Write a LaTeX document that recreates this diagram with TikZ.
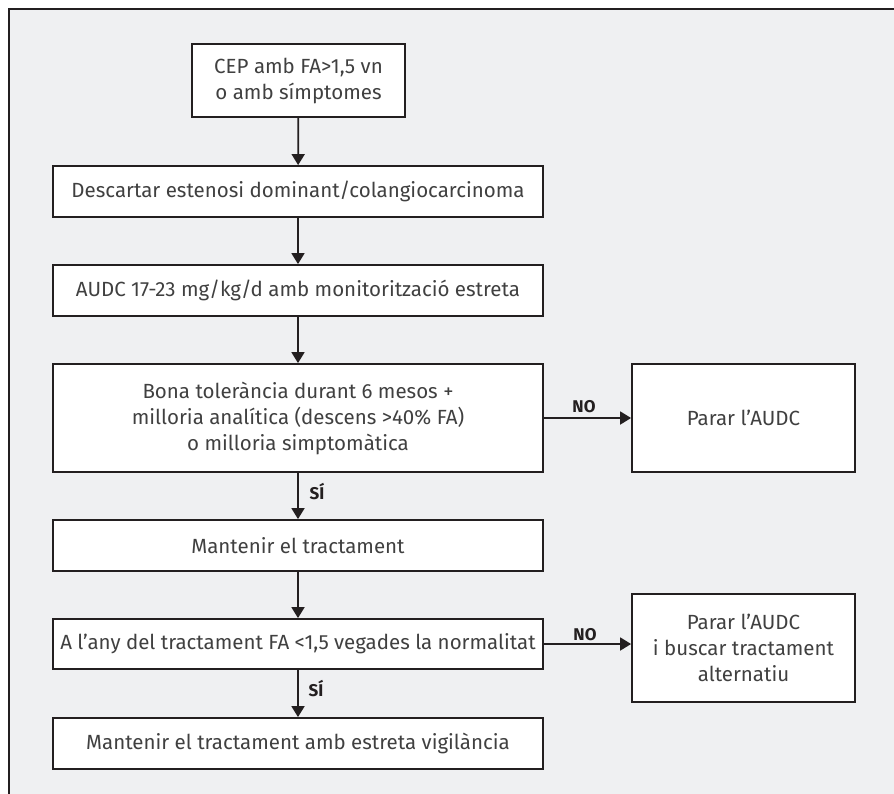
\documentclass[tikz,border=0pt]{standalone}
\usepackage{fontspec}
\setmainfont{Fira Sans}
\usetikzlibrary{arrows.meta}
\definecolor{bgcol}{HTML}{EFF0F2}
\definecolor{linecol}{HTML}{231F20}
\definecolor{txtcol}{HTML}{404040}
\begin{document}
\begin{tikzpicture}[x=1pt,y=-1pt,
  box/.style={draw=linecol, line width=1.8pt, fill=white, text=txtcol,
    align=center, inner sep=0pt, font=\fontsize{20.5}{26}\selectfont},
  arr/.style={draw=linecol, line width=1.8pt, -{Triangle[width=13pt,length=11pt]}},
  lbl/.style={text=linecol, font=\fontsize{17}{20}\selectfont\bfseries, inner sep=0pt}]
\useasboundingbox (0,0) rectangle (894,794);
\fill[bgcol] (9,9) rectangle (894,794);
\draw[linecol, line width=1.4pt] (9,794) -- (9,9) -- (894,9);

\node[box, minimum width=213pt, minimum height=73pt] (b1) at (298.5,80.5) {CEP amb FA>1,5 vn\\o amb símptomes};
\node[box, minimum width=490pt, minimum height=51pt] (b2) at (298,191.5) {Descartar estenosi dominant/colangiocarcinoma};
\node[box, minimum width=490pt, minimum height=51pt] (b3) at (298,290.5) {AUDC 17-23 mg/kg/d amb monitorització estreta};
\node[box, minimum width=490pt, minimum height=108pt] (b4) at (298,418) {Bona tolerància durant 6 mesos +\\milloria analítica (descens >40\% FA)\\o milloria simptomàtica};
\node[box, minimum width=223pt, minimum height=108pt] (b5) at (743.5,418) {Parar l’AUDC};
\node[box, minimum width=490pt, minimum height=51pt] (b6) at (298,545.5) {Mantenir el tractament};
\node[box, minimum width=490pt, minimum height=50pt] (b7) at (298,644) {A l’any del tractament FA <1,5 vegades la normalitat};
\node[box, minimum width=223pt, minimum height=108pt] (b8) at (743.5,648) {Parar l’AUDC\\i buscar tractament\\alternatiu};
\node[box, minimum width=490pt, minimum height=51pt] (b9) at (298,743.5) {Mantenir el tractament amb estreta vigilància};

\draw[arr] (b1) -- (b2);
\draw[arr] (b2) -- (b3);
\draw[arr] (b3) -- (b4);
\draw[arr] (b4) -- (b5);
\draw[arr] (b4) -- (b6);
\draw[arr] (b6) -- (b7);
\draw[arr] (b7.east) -- (b8.west |- b7.east);
\draw[arr] (b7) -- (b9);

\node[lbl] (no1) at (584,407) {NO};
\node[lbl] (no2) at (585,635) {NO};
\node[lbl] (si1) at (317,492) {SÍ};
\node[lbl] (si2) at (316,689) {SÍ};
\end{tikzpicture}
\end{document}
